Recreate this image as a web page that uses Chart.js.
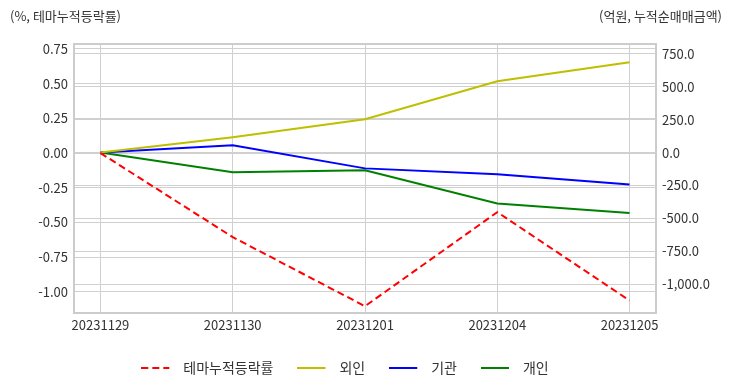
<!DOCTYPE html>
<html lang="ko">
<head>
    <meta charset="UTF-8">
    <title>테마 누적등락률 / 누적순매매금액</title>
    <script src="https://cdn.jsdelivr.net/npm/chart.js"></script>
    <style>
        html, body { margin: 0; padding: 0; background: #fff; }
        .chart-container { position: relative; width: 732px; height: 392px; }
    </style>
</head>
<body>
    <div class="chart-container">
        <canvas id="themeChart"></canvas>
    </div>
    <script>
        // data
        const dates = ['20231129', '20231130', '20231201', '20231204', '20231205'];
        const themeRate = [0, -0.606, -1.104, -0.426, -1.063];   // %, left axis
        const foreign = [0, 117, 254, 543, 688];                   // 억원, right axis
        const institution = [0, 56, -120, -165, -242];
        const individual = [0, -150, -135, -387, -460];
        const leftTicks = [-1.0, -0.75, -0.5, -0.25, 0, 0.25, 0.5, 0.75];
        const rightTicks = [-1000, -750, -500, -250, 0, 250, 500, 750];

        const FONT = "'Noto Sans CJK KR', 'Noto Sans', sans-serif";
        const toPoints = arr => arr.map((v, i) => ({ x: i, y: v }));

        // legend marker: a short line sitting at the left of a wider box,
        // so the label gets a bit more room like the original
        function legendLine(color, dash) {
            const c = document.createElement('canvas');
            c.width = 35;
            c.height = 6;
            const g = c.getContext('2d');
            g.strokeStyle = color;
            g.lineWidth = 2;
            g.setLineDash(dash || []);
            g.beginPath();
            g.moveTo(0, 3);
            g.lineTo(28, 3);
            g.stroke();
            return c;
        }

        // axis captions + frame around plot area
        const framePlugin = {
            id: 'frame',
            afterLayout(chart) {
                // original legend sits a little left of centre
                if (chart.legend) chart.legend.right -= 42;
            },
            beforeDatasetsDraw(chart) {
                const { ctx, chartArea: a } = chart;
                ctx.save();
                ctx.strokeStyle = '#cccccc';
                ctx.lineWidth = 2;
                ctx.strokeRect(a.left, a.top, a.right - a.left, a.bottom - a.top);
                ctx.restore();
            },
            afterDraw(chart) {
                const { ctx } = chart;
                ctx.save();
                ctx.font = '13px ' + FONT;
                ctx.fillStyle = '#333';
                ctx.textBaseline = 'middle';
                ctx.textAlign = 'left';
                ctx.fillText('(%, 테마누적등락률)', 10, 16);
                ctx.textAlign = 'right';
                ctx.fillText('(억원, 누적순매매금액)', 722, 16);
                ctx.restore();
            }
        };

        const tickFont = { family: FONT, size: 13 };
        const gridOpts = { color: '#d0d0d0', lineWidth: 1, drawTicks: false };

        const ctx = document.getElementById('themeChart').getContext('2d');
        const themeChart = new Chart(ctx, {
            type: 'line',
            data: {
                datasets: [
                    { label: '테마누적등락률', data: toPoints(themeRate), yAxisID: 'y',
                      borderColor: '#ff0000', borderDash: [7, 4], borderWidth: 2,
                      pointStyle: legendLine('#ff0000', [7, 4]) },
                    { label: '외인', data: toPoints(foreign), yAxisID: 'y1',
                      borderColor: '#bfbf00', borderWidth: 2,
                      pointStyle: legendLine('#bfbf00') },
                    { label: '기관', data: toPoints(institution), yAxisID: 'y1',
                      borderColor: '#0000ff', borderWidth: 2,
                      pointStyle: legendLine('#0000ff') },
                    { label: '개인', data: toPoints(individual), yAxisID: 'y1',
                      borderColor: '#008000', borderWidth: 2,
                      pointStyle: legendLine('#008000') }
                ]
            },
            options: {
                responsive: true,
                maintainAspectRatio: false,
                animation: false,
                elements: { point: { radius: 0 }, line: { tension: 0, fill: false } },
                layout: { padding: { top: 44, bottom: 7, left: 0, right: 0 } },
                plugins: {
                    tooltip: { enabled: false },
                    legend: {
                        position: 'bottom',
                        labels: {
                            usePointStyle: true,
                            pointStyleWidth: 35,
                            boxHeight: 14,
                            padding: 24,
                            color: '#333',
                            font: { family: FONT, size: 14 }
                        }
                    }
                },
                scales: {
                    x: {
                        type: 'linear',
                        min: -0.2,
                        max: 4.2,
                        afterBuildTicks: s => { s.ticks = dates.map((d, i) => ({ value: i })); },
                        afterFit: s => { s.height = 24; },
                        ticks: {
                            callback: v => dates[v],
                            color: '#333',
                            padding: 4,
                            maxRotation: 0,
                            autoSkip: false,
                            font: tickFont
                        },
                        grid: gridOpts,
                        border: { display: false }
                    },
                    y: {
                        position: 'left',
                        min: -1.153,
                        max: 0.786,
                        afterBuildTicks: s => { s.ticks = leftTicks.map(v => ({ value: v })); },
                        afterFit: s => { s.width = 74; },
                        ticks: {
                            callback: v => v.toFixed(2),
                            color: '#333',
                            padding: 6,
                            autoSkip: false,
                            font: tickFont
                        },
                        grid: gridOpts,
                        border: { display: false }
                    },
                    y1: {
                        position: 'right',
                        min: -1220,
                        max: 826,
                        afterBuildTicks: s => { s.ticks = rightTicks.map(v => ({ value: v })); },
                        afterFit: s => { s.width = 76; },
                        ticks: {
                            callback: v => v.toLocaleString('en-US', { minimumFractionDigits: 1, maximumFractionDigits: 1 }),
                            color: '#333',
                            padding: 6,
                            autoSkip: false,
                            font: tickFont
                        },
                        grid: gridOpts,
                        border: { display: false }
                    }
                }
            },
            plugins: [framePlugin]
        });
    </script>
</body>
</html>
